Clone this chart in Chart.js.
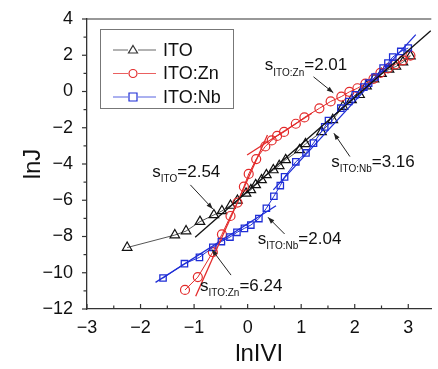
<!DOCTYPE html>
<html>
<head>
<meta charset="utf-8">
<script src="https://cdn.jsdelivr.net/npm/chart.js@4/dist/chart.umd.min.js"></script>
<style>
  html, body { margin: 0; padding: 0; background: #fff; }
  #wrap { width: 438px; height: 369px; position: relative; }
</style>
</head>
<body>
<div id="wrap"><canvas id="canvasChart"></canvas></div>
<script>
// series values (lnV, lnJ)
var itoX = [-2.25, -1.36, -1.15, -0.89, -0.63, -0.48, -0.32, -0.19, -0.03, 0.06, 0.15, 0.26, 0.35, 0.48, 0.59, 0.71, 0.97, 1.08, 1.38, 1.59, 1.78, 1.94, 2.09, 2.22, 2.36, 2.50, 2.64, 2.77, 2.90, 3.04];
var itoY = [-8.61, -7.92, -7.70, -7.18, -6.81, -6.59, -6.29, -6.01, -5.62, -5.43, -5.15, -4.88, -4.60, -4.33, -4.10, -3.77, -3.22, -2.89, -2.23, -1.56, -0.83, -0.46, -0.18, 0.30, 0.68, 0.98, 1.22, 1.38, 1.62, 1.95];

var znX = [-1.17, -0.93, -0.65, -0.48, -0.32, -0.19, -0.07, 0.02, 0.16, 0.33, 0.45, 0.55, 0.68, 0.90, 1.06, 1.34, 1.55, 1.75, 1.90, 2.05, 2.20, 2.35, 2.48, 2.62, 2.76, 2.90, 3.04];
var znY = [-10.95, -10.24, -8.86, -7.88, -6.87, -6.13, -5.25, -4.55, -3.73, -3.03, -2.70, -2.45, -2.23, -1.78, -1.43, -0.93, -0.55, -0.28, -0.02, 0.18, 0.43, 0.70, 1.03, 1.28, 1.50, 1.72, 1.98];

var nbX = [-1.58, -1.18, -0.90, -0.65, -0.49, -0.33, -0.20, -0.06, 0.06, 0.21, 0.35, 0.49, 0.61, 0.69, 0.90, 1.09, 1.23, 1.44, 1.51, 1.74, 1.89, 2.01, 2.17, 2.26, 2.38, 2.53, 2.62, 2.71, 2.86, 3.00];
var nbY = [-10.29, -9.50, -9.15, -8.60, -8.28, -8.03, -7.77, -7.55, -7.37, -7.01, -6.44, -5.78, -5.19, -4.71, -3.88, -3.39, -2.85, -1.95, -1.60, -0.92, -0.55, -0.18, 0.24, 0.46, 0.80, 1.29, 1.57, 1.90, 2.21, 2.40];

// fitted line end points
var fitIto = [[-0.98, -8.04], [3.42, 3.35]];
var fitZnLow = [[-0.97, -11.3], [0.37, -2.4]];
var fitZnHigh = [[-0.01, -3.5], [1.2, -1.2]];
var fitNbLow = [[-1.72, -10.53], [0.53, -6.30]];
var fitNbHigh = [[0.48, -5.43], [3.14, 3.14]];

// slope labels: [x, y, sub, value, arrowFrom, arrowTo]
var notes = [
	[-1.78, -4.44, 'ITO', '=2.54', [-1.07, -5.15], [-0.65, -6.48]],
	[0.32, 1.42, 'ITO:Zn', '=2.01', [1.23, 0.81], [1.60, -0.07]],
	[1.56, -3.93, 'ITO:Nb', '=3.16', [1.91, -3.59], [1.61, -2.30]],
	[0.19, -8.14, 'ITO:Nb', '=2.04', [0.69, -7.86], [0.38, -6.94]],
	[-0.89, -10.74, 'ITO:Zn', '=6.24', [-0.31, -10.13], [-0.67, -8.71]]
];

var xTicks = [-3, -2, -1, 0, 1, 2, 3];
var yTicks = [-12, -10, -8, -6, -4, -2, 0, 2, 4];

var BLACK = '#333333';
var RED = '#e32b2b';
var BLUE = '#1f2ed6';
var FONT = '"Liberation Sans", Arial, sans-serif';

function pts(xs, ys) {
	return xs.map(function(x, i) { return {x: x, y: ys[i]}; });
}
function seg(p) {
	return p.map(function(a) { return {x: a[0], y: a[1]}; });
}
function minus(v) {
	return v < 0 ? '\u2212' + Math.abs(v) : '' + v;
}

function fitSet(p, color) {
	return {
		data: seg(p), showLine: true, borderColor: color, borderWidth: 1.3,
		pointRadius: 0, order: 0
	};
}

// draws ticks, top border, legend and slope labels
var decorPlugin = {
	id: 'decor',
	afterDraw: function(chart) {
		var ctx = chart.ctx;
		var a = chart.chartArea;
		var xs = chart.scales.x, ys = chart.scales.y;
		ctx.save();
		ctx.strokeStyle = '#333';
		ctx.lineWidth = 1.2;
		// top frame line
		ctx.beginPath();
		ctx.moveTo(a.left, a.top);
		ctx.lineTo(a.right, a.top);
		ctx.stroke();
		// x ticks point inward
		for (var v = -3; v <= 3.4; v += 0.5) {
			var px = xs.getPixelForValue(v);
			var len = Math.abs(v % 1) < 0.01 ? 5 : 3.5;
			ctx.beginPath();
			ctx.moveTo(px, a.bottom);
			ctx.lineTo(px, a.bottom - len);
			ctx.stroke();
		}
		// y ticks point outward
		for (var w = -12; w <= 4; w += 1) {
			var py = ys.getPixelForValue(w);
			var l2 = w % 2 === 0 ? 5 : 3.5;
			ctx.beginPath();
			ctx.moveTo(a.left, py);
			ctx.lineTo(a.left - l2, py);
			ctx.stroke();
		}

		// legend
		ctx.strokeStyle = '#777';
		ctx.lineWidth = 1;
		ctx.strokeRect(100.5, 29.5, 133, 79);
		var rows = [['ITO', BLACK, 'tri'], ['ITO:Zn', RED, 'circ'], ['ITO:Nb', BLUE, 'sq']];
		rows.forEach(function(r, i) {
			var y = 50 + i * 23.5;
			ctx.strokeStyle = r[1];
			ctx.globalAlpha = 0.75;
			ctx.lineWidth = 1;
			ctx.beginPath();
			ctx.moveTo(113, y);
			ctx.lineTo(128, y);
			ctx.moveTo(138, y);
			ctx.lineTo(156, y);
			ctx.stroke();
			ctx.globalAlpha = 1;
			ctx.lineWidth = 1.2;
			ctx.beginPath();
			if (r[2] === 'tri') {
				ctx.moveTo(133, y - 4.5);
				ctx.lineTo(137.5, y + 3);
				ctx.lineTo(128.5, y + 3);
				ctx.closePath();
			} else if (r[2] === 'circ') {
				ctx.arc(133, y, 4, 0, Math.PI * 2);
			} else {
				ctx.rect(129, y - 4, 8, 8);
			}
			ctx.stroke();
			ctx.fillStyle = '#111';
			ctx.font = '18px ' + FONT;
			ctx.textBaseline = 'middle';
			ctx.textAlign = 'left';
			ctx.fillText(r[0], 163, y + 1);
		});

		// slope labels with arrows
		notes.forEach(function(n) {
			var tx = xs.getPixelForValue(n[0]);
			var ty = ys.getPixelForValue(n[1]);
			ctx.fillStyle = '#111';
			ctx.textBaseline = 'middle';
			ctx.textAlign = 'left';
			ctx.font = '17px ' + FONT;
			ctx.fillText('s', tx, ty);
			var sw = ctx.measureText('s').width;
			ctx.font = '10px ' + FONT;
			ctx.fillText(n[2], tx + sw, ty + 7);
			var subw = ctx.measureText(n[2]).width;
			ctx.font = '17px ' + FONT;
			ctx.fillText(n[3], tx + sw + subw, ty);

			var x1 = xs.getPixelForValue(n[4][0]), y1 = ys.getPixelForValue(n[4][1]);
			var x2 = xs.getPixelForValue(n[5][0]), y2 = ys.getPixelForValue(n[5][1]);
			ctx.strokeStyle = '#222';
			ctx.lineWidth = 1;
			ctx.beginPath();
			ctx.moveTo(x1, y1);
			ctx.lineTo(x2, y2);
			ctx.stroke();
			var ang = Math.atan2(y2 - y1, x2 - x1);
			ctx.fillStyle = '#222';
			ctx.beginPath();
			ctx.moveTo(x2, y2);
			ctx.lineTo(x2 - 7 * Math.cos(ang - 0.35), y2 - 7 * Math.sin(ang - 0.35));
			ctx.lineTo(x2 - 7 * Math.cos(ang + 0.35), y2 - 7 * Math.sin(ang + 0.35));
			ctx.closePath();
			ctx.fill();
		});
		ctx.restore();
	}
};

var config = {
	type: 'scatter',
	data: {
		datasets: [
			{
				label: 'ITO', data: pts(itoX, itoY), showLine: true,
				borderColor: '#555', borderWidth: 1,
				pointStyle: 'triangle', pointRadius: 5.5, pointBorderWidth: 1.2,
				pointBorderColor: '#111', pointBackgroundColor: 'rgba(0,0,0,0)', order: 3
			},
			{
				label: 'ITO:Zn', data: pts(znX, znY), showLine: true,
				borderColor: RED, borderWidth: 1,
				pointStyle: 'circle', pointRadius: 4.5, pointBorderWidth: 1.2,
				pointBorderColor: RED, pointBackgroundColor: 'rgba(0,0,0,0)', order: 2
			},
			{
				label: 'ITO:Nb', data: pts(nbX, nbY), showLine: true,
				borderColor: BLUE, borderWidth: 1,
				pointStyle: 'rect', pointRadius: 4.5, pointBorderWidth: 1.3,
				pointBorderColor: BLUE, pointBackgroundColor: 'rgba(0,0,0,0)', order: 1
			},
			fitSet(fitIto, '#111'),
			fitSet(fitZnLow, RED),
			fitSet(fitZnHigh, RED),
			fitSet(fitNbLow, BLUE),
			fitSet(fitNbHigh, BLUE)
		]
	},
	options: {
		responsive: false,
		animation: false,
		layout: { padding: { top: 19, right: 0, left: 0, bottom: 0 } },
		plugins: { legend: { display: false }, tooltip: { enabled: false } },
		scales: {
			x: {
				type: 'linear', min: -3, max: 3.43,
				afterFit: function(s) { s.height = 60; },
				afterBuildTicks: function(s) { s.ticks = xTicks.map(function(v) { return {value: v}; }); },
				grid: { display: false },
				border: { display: true, color: '#333', width: 1.3 },
				ticks: {
					padding: 0, color: '#111', maxRotation: 0,
					font: { family: FONT, size: 18 },
					callback: function(v) { return minus(v); }
				},
				title: {
					display: true, text: 'lnIVI', color: '#111',
					font: { family: FONT, size: 24 }, padding: { top: 0, bottom: 0 }
				}
			},
			y: {
				type: 'linear', min: -12, max: 4,
				afterFit: function(s) { s.width = 87; },
				afterBuildTicks: function(s) { s.ticks = yTicks.map(function(v) { return {value: v}; }); },
				grid: { display: false },
				border: { display: true, color: '#333', width: 1.3 },
				ticks: {
					padding: 6, color: '#111',
					font: { family: FONT, size: 18 },
					callback: function(v) { return minus(v); }
				},
				title: {
					display: true, text: 'lnJ', color: '#111',
					font: { family: FONT, size: 24 }, padding: { top: 19, bottom: 0 }
				}
			}
		}
	},
	plugins: [decorPlugin]
};

var canvas = document.getElementById('canvasChart');
canvas.width = 438;
canvas.height = 369;
window.myChart = new Chart(canvas, config);
</script>
</body>
</html>
